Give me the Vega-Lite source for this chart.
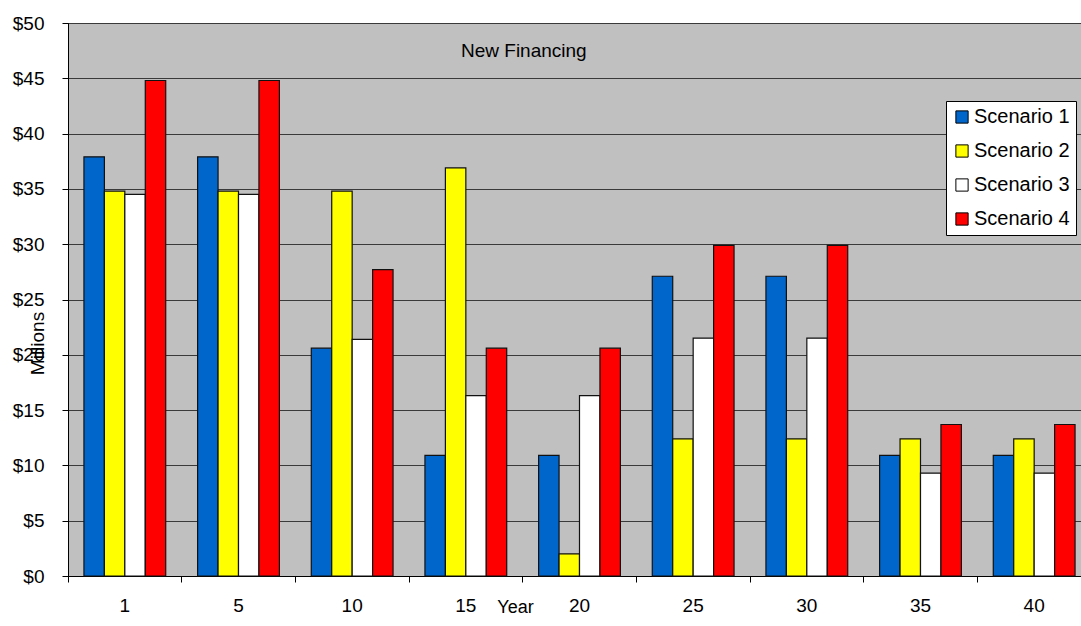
{
  "$schema": "https://vega.github.io/schema/vega-lite/v6.json",
  "width": 1023,
  "height": 553,
  "autosize": {"type": "none"},
  "padding": {"left": 68, "top": 23, "right": 0, "bottom": 50},
  "background": "#ffffff",
  "title": {
    "text": "New Financing",
    "anchor": "start",
    "frame": "group",
    "orient": "top",
    "offset": 0,
    "dx": 393,
    "dy": 62,
    "baseline": "alphabetic",
    "font": "Liberation Sans",
    "fontSize": 19,
    "fontWeight": "normal",
    "color": "#000000"
  },
  "data": {
    "values": [
      {"year": "1", "scenario": "Scenario 1", "value": 37.9},
      {"year": "1", "scenario": "Scenario 2", "value": 34.8},
      {"year": "1", "scenario": "Scenario 3", "value": 34.5},
      {"year": "1", "scenario": "Scenario 4", "value": 44.8},
      {"year": "5", "scenario": "Scenario 1", "value": 37.9},
      {"year": "5", "scenario": "Scenario 2", "value": 34.8},
      {"year": "5", "scenario": "Scenario 3", "value": 34.5},
      {"year": "5", "scenario": "Scenario 4", "value": 44.8},
      {"year": "10", "scenario": "Scenario 1", "value": 20.6},
      {"year": "10", "scenario": "Scenario 2", "value": 34.8},
      {"year": "10", "scenario": "Scenario 3", "value": 21.4},
      {"year": "10", "scenario": "Scenario 4", "value": 27.7},
      {"year": "15", "scenario": "Scenario 1", "value": 10.9},
      {"year": "15", "scenario": "Scenario 2", "value": 36.9},
      {"year": "15", "scenario": "Scenario 3", "value": 16.3},
      {"year": "15", "scenario": "Scenario 4", "value": 20.6},
      {"year": "20", "scenario": "Scenario 1", "value": 10.9},
      {"year": "20", "scenario": "Scenario 2", "value": 2.0},
      {"year": "20", "scenario": "Scenario 3", "value": 16.3},
      {"year": "20", "scenario": "Scenario 4", "value": 20.6},
      {"year": "25", "scenario": "Scenario 1", "value": 27.1},
      {"year": "25", "scenario": "Scenario 2", "value": 12.4},
      {"year": "25", "scenario": "Scenario 3", "value": 21.5},
      {"year": "25", "scenario": "Scenario 4", "value": 29.9},
      {"year": "30", "scenario": "Scenario 1", "value": 27.1},
      {"year": "30", "scenario": "Scenario 2", "value": 12.4},
      {"year": "30", "scenario": "Scenario 3", "value": 21.5},
      {"year": "30", "scenario": "Scenario 4", "value": 29.9},
      {"year": "35", "scenario": "Scenario 1", "value": 10.9},
      {"year": "35", "scenario": "Scenario 2", "value": 12.4},
      {"year": "35", "scenario": "Scenario 3", "value": 9.3},
      {"year": "35", "scenario": "Scenario 4", "value": 13.7},
      {"year": "40", "scenario": "Scenario 1", "value": 10.9},
      {"year": "40", "scenario": "Scenario 2", "value": 12.4},
      {"year": "40", "scenario": "Scenario 3", "value": 9.3},
      {"year": "40", "scenario": "Scenario 4", "value": 13.7}
    ]
  },
  "mark": {"type": "bar", "stroke": "#111111", "strokeWidth": 1.2},
  "encoding": {
    "x": {
      "field": "year",
      "type": "ordinal",
      "sort": null,
      "scale": {"paddingInner": 0, "paddingOuter": 0},
      "axis": {
        "title": "Year",
        "titleX": 447,
        "titleY": 36,
        "titleAlign": "center",
        "titleBaseline": "alphabetic",
        "titleFont": "Liberation Sans",
        "titleFontSize": 18,
        "titleFontWeight": "normal",
        "titleColor": "#000000",
        "labelAngle": 0,
        "bandPosition": 0,
        "labelFont": "Liberation Sans",
        "labelFontSize": 19,
        "labelColor": "#000000",
        "labelPadding": 14,
        "tickSize": 6,
        "tickColor": "#000000",
        "domainColor": "#000000",
        "grid": false
      }
    },
    "xOffset": {
      "field": "scenario",
      "type": "nominal",
      "scale": {"paddingInner": 0, "paddingOuter": 0.78}
    },
    "y": {
      "field": "value",
      "type": "quantitative",
      "scale": {"domain": [0, 50], "nice": false},
      "axis": {
        "title": "Millions",
        "titleX": -31,
        "titleY": 320,
        "titleAngle": -90,
        "titleAlign": "center",
        "titleBaseline": "middle",
        "titleFont": "Liberation Sans",
        "titleFontSize": 19,
        "titleFontWeight": "normal",
        "titleColor": "#000000",
        "values": [0, 5, 10, 15, 20, 25, 30, 35, 40, 45, 50],
        "labelExpr": "'$' + datum.value",
        "labelFont": "Liberation Sans",
        "labelFontSize": 19,
        "labelColor": "#000000",
        "labelPadding": 18,
        "tickSize": 6,
        "tickColor": "#000000",
        "domainColor": "#000000",
        "grid": true,
        "gridColor": "#3a3a3a",
        "gridWidth": 1,
        "gridOpacity": 1
      }
    },
    "fill": {
      "field": "scenario",
      "type": "nominal",
      "scale": {
        "domain": ["Scenario 1", "Scenario 2", "Scenario 3", "Scenario 4"],
        "range": ["#0066cc", "#ffff00", "#ffffff", "#ff0000"]
      },
      "legend": {
        "title": null,
        "orient": "none",
        "legendX": 878,
        "legendY": 78,
        "padding": 6,
        "fillColor": "#ffffff",
        "strokeColor": "#000000",
        "symbolType": "square",
        "symbolSize": 150,
        "symbolStrokeColor": "#000000",
        "symbolStrokeWidth": 1,
        "labelFont": "Liberation Sans",
        "labelFontSize": 20,
        "labelColor": "#000000",
        "labelOffset": 2,
        "rowPadding": 14
      }
    }
  },
  "config": {
    "view": {"fill": "#c0c0c0", "stroke": "#000000", "strokeWidth": 1},
    "axis": {"domainWidth": 1, "tickWidth": 1}
  }
}
